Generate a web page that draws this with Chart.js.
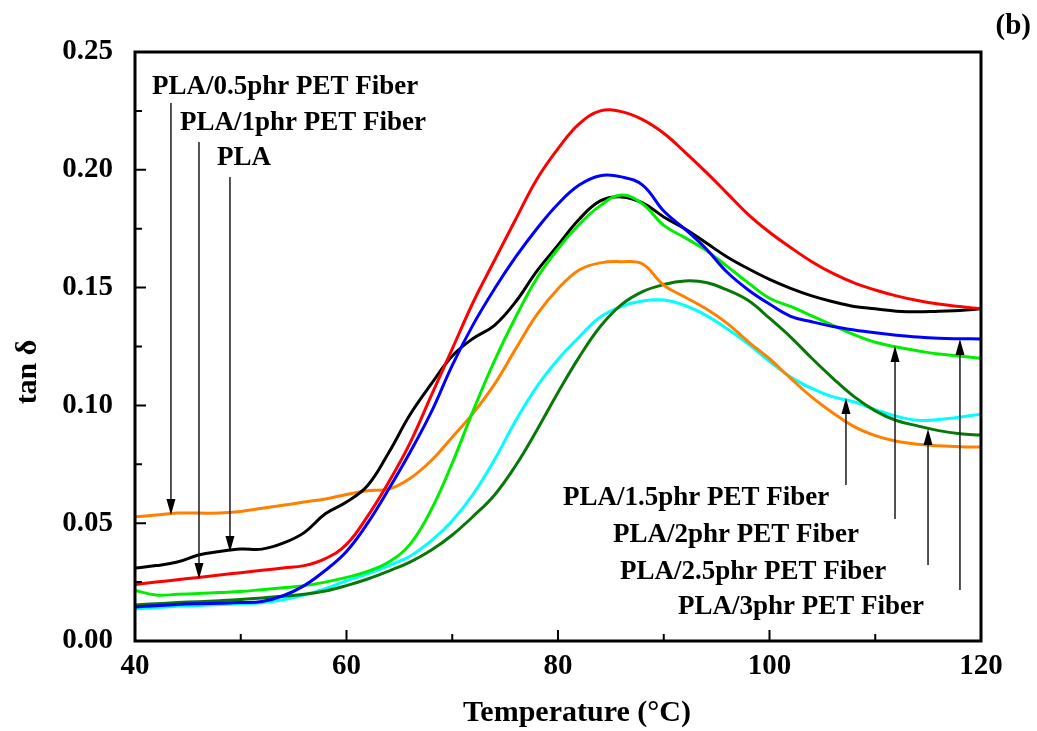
<!DOCTYPE html>
<html>
<head>
<meta charset="utf-8">
<script src="https://cdn.jsdelivr.net/npm/chart.js@4.4.1/dist/chart.umd.min.js"></script>
<style>
  html, body { margin: 0; padding: 0; background: #fff; }
  canvas { display: block; }
</style>
</head>
<body>
<canvas id="dma" width="1037" height="731"></canvas>
<script>
// Temperature sweep (°C) shared by every sample
const temperature = [40, 42, 44, 46, 48, 50, 52, 54, 56, 58, 60, 62, 64, 66, 68, 70, 72, 74, 76, 78,
  80, 82, 84, 86, 88, 90, 92, 94, 96, 98, 100, 102, 104, 106, 108, 110, 112, 114, 116, 118, 120];

// tan δ for each sample
const pla = [0.031, 0.032, 0.0335, 0.0365, 0.038, 0.039, 0.039, 0.0415, 0.046, 0.054, 0.059, 0.066, 0.080, 0.096,
  0.109, 0.121, 0.1285, 0.134, 0.144, 0.157, 0.168, 0.179, 0.1868, 0.1885, 0.186, 0.180, 0.175, 0.169, 0.163, 0.158,
  0.1535, 0.1497, 0.1465, 0.144, 0.142, 0.141, 0.140, 0.1397, 0.140, 0.1403, 0.141];
const pet05 = [0.0527, 0.0535, 0.0543, 0.0543, 0.0543, 0.055, 0.0563, 0.0576, 0.059, 0.0603, 0.0622, 0.0638, 0.0645,
  0.069, 0.0765, 0.0865, 0.0968, 0.109, 0.124, 0.1385, 0.1495, 0.1575, 0.1605, 0.161, 0.160, 0.151, 0.146, 0.141, 0.1348,
  0.127, 0.1198, 0.1115, 0.1035, 0.0968, 0.091, 0.0872, 0.0848, 0.0835, 0.0829, 0.0825, 0.0823];
const pet1 = [0.024, 0.025, 0.026, 0.027, 0.028, 0.029, 0.030, 0.031, 0.032, 0.035, 0.041, 0.053, 0.0675, 0.084, 0.104,
  0.124, 0.144, 0.1616, 0.179, 0.196, 0.209, 0.2195, 0.2250, 0.2247, 0.2213, 0.2155, 0.2075, 0.199, 0.190, 0.181, 0.1735,
  0.167, 0.161, 0.156, 0.152, 0.149, 0.1465, 0.1445, 0.143, 0.142, 0.141];
const pet15 = [0.0136, 0.0142, 0.0147, 0.0151, 0.0155, 0.0158, 0.0162, 0.0175, 0.0195, 0.0222, 0.0255, 0.0285, 0.032,
  0.036, 0.0425, 0.051, 0.0625, 0.077, 0.0935, 0.108, 0.1195, 0.129, 0.1375, 0.142, 0.1443, 0.1447, 0.1424, 0.1382,
  0.1325, 0.126, 0.1187, 0.112, 0.1072, 0.1036, 0.1015, 0.0982, 0.0954, 0.0937, 0.094, 0.095, 0.0963];
const pet2 = [0.0215, 0.0195, 0.0198, 0.0202, 0.0206, 0.021, 0.0218, 0.0226, 0.0235, 0.025, 0.027, 0.0295, 0.0335,
  0.041, 0.0556, 0.0755, 0.098, 0.119, 0.1375, 0.154, 0.1665, 0.1768, 0.1848, 0.1893, 0.1855, 0.1764, 0.1712, 0.1658,
  0.159, 0.152, 0.1455, 0.142, 0.138, 0.134, 0.130, 0.1268, 0.1248, 0.1232, 0.1218, 0.121, 0.120];
const pet25 = [0.0153, 0.0158, 0.0163, 0.0167, 0.0171, 0.0176, 0.0183, 0.019, 0.0198, 0.0212, 0.0235, 0.0263, 0.0297,
  0.0335, 0.0385, 0.045, 0.053, 0.062, 0.0745, 0.0895, 0.1055, 0.1205, 0.1335, 0.1428, 0.1483, 0.1513, 0.1528, 0.1522,
  0.149, 0.1445, 0.137, 0.129, 0.120, 0.1115, 0.1037, 0.0977, 0.0936, 0.0913, 0.0893, 0.088, 0.0874];
const pet3 = [0.0144, 0.015, 0.0155, 0.0158, 0.016, 0.0163, 0.0168, 0.0192, 0.0235, 0.030, 0.038, 0.050, 0.0645, 0.080,
  0.097, 0.117, 0.1345, 0.1495, 0.163, 0.175, 0.1855, 0.1935, 0.1975, 0.197, 0.1935, 0.1825, 0.1748, 0.1665, 0.1565,
  0.149, 0.143, 0.1378, 0.1355, 0.1335, 0.132, 0.1308, 0.1298, 0.129, 0.1285, 0.1283, 0.1282];

// Axis tick labels
const xTicks = [40, 60, 80, 100, 120];
const yTicks = [0, 0.05, 0.10, 0.15, 0.20, 0.25];

const samples = [
  { name: 'PLA/1phr PET Fiber',   values: pet1,  color: '#ff0000' },
  { name: 'PLA/3phr PET Fiber',   values: pet3,  color: '#0000ff' },
  { name: 'PLA/2phr PET Fiber',   values: pet2,  color: '#00ee00' },
  { name: 'PLA',                  values: pla,   color: '#000000' },
  { name: 'PLA/0.5phr PET Fiber', values: pet05, color: '#ff8000' },
  { name: 'PLA/2.5phr PET Fiber', values: pet25, color: '#087808' },
  { name: 'PLA/1.5phr PET Fiber', values: pet15, color: '#00ffff' }
];

// Callouts: label anchor (left edge, middle) and a vertical arrow, all in data units
const callouts = [
  { text: 'PLA/0.5phr PET Fiber', tx: 41.61, ty: 0.2351, ax: 43.40, from: 0.2284, to: 0.0535 },
  { text: 'PLA/1phr PET Fiber',   tx: 44.26, ty: 0.2199, ax: 46.05, from: 0.2118, to: 0.0263 },
  { text: 'PLA',                  tx: 47.75, ty: 0.2050, ax: 48.98, from: 0.1969, to: 0.0378 },
  { text: 'PLA/1.5phr PET Fiber', tx: 80.47, ty: 0.0607, ax: 107.23, from: 0.0662, to: 0.1031 },
  { text: 'PLA/2phr PET Fiber',   tx: 85.20, ty: 0.0450, ax: 111.87, from: 0.0518, to: 0.1252 },
  { text: 'PLA/2.5phr PET Fiber', tx: 85.86, ty: 0.0293, ax: 114.99, from: 0.0323, to: 0.0900 },
  { text: 'PLA/3phr PET Fiber',   tx: 91.35, ty: 0.0144, ax: 118.01, from: 0.0216, to: 0.1282 }
];

const SERIF = '"Liberation Serif", "Times New Roman", Times, serif';

// Boxed frame with inward major/minor ticks, axis titles, panel tag and callouts
const decorations = {
  id: 'decorations',
  afterDatasetsDraw(chart) {
    const { ctx, chartArea: a, scales: { x, y } } = chart;
    ctx.save();

    // callout arrows
    ctx.strokeStyle = '#1a1a1a';
    ctx.fillStyle = '#000';
    ctx.lineWidth = 1.5;
    callouts.forEach(c => {
      const px = x.getPixelForValue(c.ax);
      const y0 = y.getPixelForValue(c.from);
      const y1 = y.getPixelForValue(c.to);
      const dir = y1 > y0 ? 1 : -1;
      const headLen = 16, headHalf = 4.5;
      ctx.beginPath();
      ctx.moveTo(px, y0);
      ctx.lineTo(px, y1 - dir * headLen);
      ctx.stroke();
      ctx.beginPath();
      ctx.moveTo(px, y1);
      ctx.lineTo(px - headHalf, y1 - dir * headLen);
      ctx.lineTo(px + headHalf, y1 - dir * headLen);
      ctx.closePath();
      ctx.fill();
    });

    // callout labels
    ctx.font = 'bold 27px ' + SERIF;
    ctx.textAlign = 'left';
    ctx.textBaseline = 'middle';
    callouts.forEach(c => {
      ctx.fillText(c.text, x.getPixelForValue(c.tx), y.getPixelForValue(c.ty));
    });

    // frame
    ctx.strokeStyle = '#000';
    ctx.lineWidth = 3;
    ctx.strokeRect(a.left, a.top, a.right - a.left, a.bottom - a.top);

    // inward ticks
    ctx.lineWidth = 2;
    ctx.beginPath();
    for (let t = x.min; t <= x.max + 1e-9; t += 10) {
      const px = x.getPixelForValue(t);
      const len = xTicks.includes(t) ? 11 : 7;
      ctx.moveTo(px, a.bottom);
      ctx.lineTo(px, a.bottom - len);
    }
    for (let i = 0; i <= 10; i++) {
      const v = i * 0.025;
      const py = y.getPixelForValue(v);
      const len = i % 2 === 0 ? 11 : 7;
      ctx.moveTo(a.left, py);
      ctx.lineTo(a.left + len, py);
    }
    ctx.stroke();

    // axis titles
    ctx.fillStyle = '#000';
    ctx.font = 'bold 30px ' + SERIF;
    ctx.textAlign = 'center';
    ctx.textBaseline = 'middle';
    ctx.fillText('Temperature (\u00B0C)', 577, 713);
    ctx.save();
    ctx.translate(28, 372);
    ctx.rotate(-Math.PI / 2);
    ctx.fillText('tan \u03B4', 0, 0);
    ctx.restore();

    // panel tag
    ctx.font = 'bold 29px ' + SERIF;
    ctx.textAlign = 'right';
    ctx.fillText('(b)', 1031, 27);

    ctx.restore();
  }
};

new Chart(document.getElementById('dma'), {
  type: 'line',
  data: {
    datasets: samples.map(s => ({
      label: s.name,
      data: temperature.map((t, i) => ({ x: t, y: s.values[i] })),
      borderColor: s.color,
      borderWidth: 3,
      pointRadius: 0,
      fill: false,
      tension: 0.4
    }))
  },
  options: {
    responsive: false,
    animation: false,
    devicePixelRatio: 1,
    layout: { padding: { left: 0, top: 52, right: 56, bottom: 0 } },
    plugins: { legend: { display: false }, tooltip: { enabled: false } },
    scales: {
      x: {
        type: 'linear',
        min: 40, max: 120,
        grid: { display: false, drawTicks: false },
        border: { display: false },
        afterBuildTicks: s => { s.ticks = xTicks.map(v => ({ value: v })); },
        afterFit: s => { s.height = 90; },
        ticks: {
          padding: 8,
          color: '#000',
          maxRotation: 0,
          font: { family: SERIF, size: 29, weight: 'bold' }
        }
      },
      y: {
        type: 'linear',
        min: 0, max: 0.25,
        grid: { display: false, drawTicks: false },
        border: { display: false },
        afterBuildTicks: s => { s.ticks = yTicks.map(v => ({ value: v })); },
        afterFit: s => { s.width = 135; },
        ticks: {
          padding: 22,
          color: '#000',
          font: { family: SERIF, size: 29, weight: 'bold' },
          callback: v => Number(v).toFixed(2)
        }
      }
    }
  },
  plugins: [decorations]
});
</script>
</body>
</html>
